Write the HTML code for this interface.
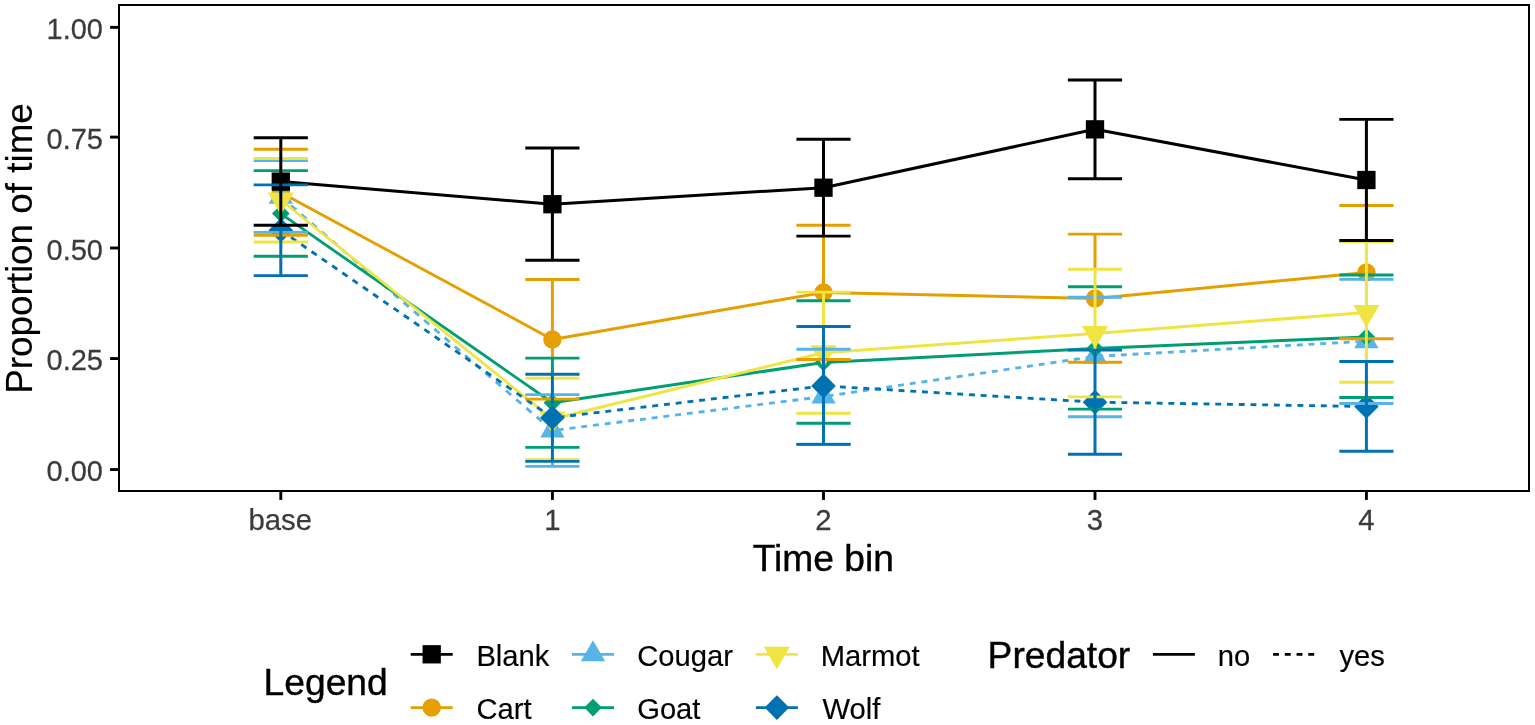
<!DOCTYPE html>
<html lang="en"><head><meta charset="utf-8"><title>Proportion of time by time bin</title>
<style>html,body{margin:0;padding:0;background:#fff;}body{width:1535px;height:725px;overflow:hidden;}svg{display:block;}text{font-family:'Liberation Sans', Arial, sans-serif;}.at{font-size:29.3px;fill:#3b3b3b;stroke:#3b3b3b;stroke-width:0.25px;}.ti{font-size:37.2px;fill:#000;stroke:#000;stroke-width:0.4px;}.lt{font-size:29.2px;fill:#000;stroke:#000;stroke-width:0.15px;}</style>
</head><body>
<svg width="1535" height="725" viewBox="0 0 1535 725">
<rect x="0" y="0" width="1535" height="725" fill="#ffffff"/>
<g fill="none" stroke-width="2.85" stroke-linejoin="round" stroke-linecap="butt">
<line x1="280.8" y1="192.5" x2="552.4" y2="339.4" stroke="#E69F00" stroke-width="2.88"/>
<line x1="552.4" y1="339.4" x2="823.5" y2="292.4" stroke="#E69F00" stroke-width="3.03"/>
<line x1="823.5" y1="292.4" x2="1095" y2="298.5" stroke="#E69F00" stroke-width="3.05"/>
<line x1="1095" y1="298.5" x2="1366.4" y2="272.4" stroke="#E69F00" stroke-width="3.04"/>
<line x1="280.8" y1="196.7" x2="552.4" y2="430.5" stroke="#56B4E9" stroke-dasharray="6.802 6.702" stroke-dashoffset="0.000"/>
<line x1="552.4" y1="430.5" x2="823.5" y2="396.6" stroke="#56B4E9" stroke-dasharray="5.961 5.861" stroke-dashoffset="6.384"/>
<line x1="823.5" y1="396.6" x2="1095" y2="356.4" stroke="#56B4E9" stroke-dasharray="5.979 5.879" stroke-dashoffset="7.728"/>
<line x1="1095" y1="356.4" x2="1366.4" y2="341.2" stroke="#56B4E9" stroke-dasharray="5.924 5.824" stroke-dashoffset="9.369"/>
<line x1="280.8" y1="213.6" x2="552.4" y2="402.75" stroke="#009E73" stroke-width="2.78"/>
<line x1="552.4" y1="402.75" x2="823.5" y2="362.5" stroke="#009E73" stroke-width="3.04"/>
<line x1="823.5" y1="362.5" x2="1095" y2="348.5" stroke="#009E73" stroke-width="3.05"/>
<line x1="1095" y1="348.5" x2="1366.4" y2="337" stroke="#009E73" stroke-width="3.05"/>
<line x1="280.8" y1="200" x2="552.4" y2="419" stroke="#F0E442" stroke-width="2.70"/>
<line x1="552.4" y1="419" x2="823.5" y2="352.65" stroke="#F0E442" stroke-width="3.01"/>
<line x1="823.5" y1="352.65" x2="1095" y2="333.5" stroke="#F0E442" stroke-width="3.05"/>
<line x1="1095" y1="333.5" x2="1366.4" y2="312.4" stroke="#F0E442" stroke-width="3.05"/>
<line x1="280.8" y1="230.25" x2="552.4" y2="417.8" stroke="#0072B2" stroke-dasharray="6.280 6.180" stroke-dashoffset="0.000"/>
<line x1="552.4" y1="417.8" x2="823.5" y2="385.9" stroke="#0072B2" stroke-dasharray="5.955 5.855" stroke-dashoffset="5.787"/>
<line x1="823.5" y1="385.9" x2="1095" y2="402.15" stroke="#0072B2" stroke-dasharray="5.925 5.825" stroke-dashoffset="7.070"/>
<line x1="1095" y1="402.15" x2="1366.4" y2="406.5" stroke="#0072B2" stroke-dasharray="5.916 5.816" stroke-dashoffset="8.769"/>
<line x1="280.8" y1="181.6" x2="552.4" y2="204.2" stroke="#000000" stroke-width="3.05"/>
<line x1="552.4" y1="204.2" x2="823.5" y2="187.7" stroke="#000000" stroke-width="3.05"/>
<line x1="823.5" y1="187.7" x2="1095" y2="129.35" stroke="#000000" stroke-width="3.02"/>
<line x1="1095" y1="129.35" x2="1366.4" y2="180" stroke="#000000" stroke-width="3.03"/>
</g>
<g>
<circle cx="280.8" cy="192.5" r="9.2" fill="#E69F00"/>
<circle cx="552.4" cy="339.4" r="9.2" fill="#E69F00"/>
<circle cx="823.5" cy="292.4" r="9.2" fill="#E69F00"/>
<circle cx="1095" cy="298.5" r="9.2" fill="#E69F00"/>
<circle cx="1366.4" cy="272.4" r="9.2" fill="#E69F00"/>
<polygon points="280.8,182.7 292.95,203.7 268.65,203.7" fill="#56B4E9"/>
<polygon points="552.4,416.5 564.55,437.5 540.25,437.5" fill="#56B4E9"/>
<polygon points="823.5,382.6 835.65,403.6 811.35,403.6" fill="#56B4E9"/>
<polygon points="1095,342.4 1107.15,363.4 1082.85,363.4" fill="#56B4E9"/>
<polygon points="1366.4,327.2 1378.55,348.2 1354.25,348.2" fill="#56B4E9"/>
<polygon points="272,213.6 280.8,204.8 289.6,213.6 280.8,222.4" fill="#009E73"/>
<polygon points="543.6,402.75 552.4,393.95 561.2,402.75 552.4,411.55" fill="#009E73"/>
<polygon points="814.7,362.5 823.5,353.7 832.3,362.5 823.5,371.3" fill="#009E73"/>
<polygon points="1086.2,348.5 1095,339.7 1103.8,348.5 1095,357.3" fill="#009E73"/>
<polygon points="1357.6,337 1366.4,328.2 1375.2,337 1366.4,345.8" fill="#009E73"/>
<polygon points="280.8,215 293.85,192.5 267.75,192.5" fill="#F0E442"/>
<polygon points="552.4,434 565.45,411.5 539.35,411.5" fill="#F0E442"/>
<polygon points="823.5,367.65 836.55,345.15 810.45,345.15" fill="#F0E442"/>
<polygon points="1095,348.5 1108.05,326 1081.95,326" fill="#F0E442"/>
<polygon points="1366.4,327.4 1379.45,304.9 1353.35,304.9" fill="#F0E442"/>
<polygon points="268.5,230.25 280.8,217.95 293.1,230.25 280.8,242.55" fill="#0072B2"/>
<polygon points="540.1,417.8 552.4,405.5 564.7,417.8 552.4,430.1" fill="#0072B2"/>
<polygon points="811.2,385.9 823.5,373.6 835.8,385.9 823.5,398.2" fill="#0072B2"/>
<polygon points="1082.7,402.15 1095,389.85 1107.3,402.15 1095,414.45" fill="#0072B2"/>
<polygon points="1354.1,406.5 1366.4,394.2 1378.7,406.5 1366.4,418.8" fill="#0072B2"/>
<rect x="271.65" y="172.45" width="18.3" height="18.3" fill="#000000"/>
<rect x="543.25" y="195.05" width="18.3" height="18.3" fill="#000000"/>
<rect x="814.35" y="178.55" width="18.3" height="18.3" fill="#000000"/>
<rect x="1085.85" y="120.2" width="18.3" height="18.3" fill="#000000"/>
<rect x="1357.25" y="170.85" width="18.3" height="18.3" fill="#000000"/>
</g>
<g>
<path fill="#E69F00" d="M253.7,147.85H307.9v2.9H253.7zM253.7,233.75H307.9v2.9H253.7z"/>
<path fill="#E69F00" d="M525.3,278.05H579.5v2.9H525.3zM550.9,279.5h3V357.85h-3zM525.3,397.65H579.5v2.9H525.3z"/>
<path fill="#E69F00" d="M796.4,223.85H850.6v2.9H796.4zM822,236.35h3V291.85h-3zM796.4,358.05H850.6v2.9H796.4z"/>
<path fill="#E69F00" d="M1067.9,232.65H1122.1v2.9H1067.9zM1093.5,234.1h3V269.05h-3zM1067.9,360.85H1122.1v2.9H1067.9z"/>
<path fill="#E69F00" d="M1339.3,204.05H1393.5v2.9H1339.3zM1364.9,240.75h3V241.45h-3zM1339.3,337.35H1393.5v2.9H1339.3z"/>
<path fill="#56B4E9" d="M253.7,159.15H307.9v2.9H253.7zM253.7,230.95H307.9v2.9H253.7z"/>
<path fill="#56B4E9" d="M525.3,393.15H579.5v2.9H525.3zM550.9,461.65h3V466.4h-3zM525.3,464.95H579.5v2.9H525.3z"/>
<path fill="#56B4E9" d="M796.4,347.85H850.6v2.9H796.4zM796.4,442.85H850.6v2.9H796.4z"/>
<path fill="#56B4E9" d="M1067.9,295.85H1122.1v2.9H1067.9zM1067.9,415.25H1122.1v2.9H1067.9z"/>
<path fill="#56B4E9" d="M1339.3,277.95H1393.5v2.9H1339.3zM1339.3,402.05H1393.5v2.9H1339.3z"/>
<path fill="#009E73" d="M253.7,169.15H307.9v2.9H253.7zM253.7,254.75H307.9v2.9H253.7z"/>
<path fill="#009E73" d="M525.3,356.65H579.5v2.9H525.3zM550.9,358.1h3V373.95h-3zM525.3,445.95H579.5v2.9H525.3z"/>
<path fill="#009E73" d="M796.4,299.25H850.6v2.9H796.4zM796.4,421.75H850.6v2.9H796.4z"/>
<path fill="#009E73" d="M1067.9,285.25H1122.1v2.9H1067.9zM1067.9,407.65H1122.1v2.9H1067.9z"/>
<path fill="#009E73" d="M1339.3,273.55H1393.5v2.9H1339.3zM1339.3,396.05H1393.5v2.9H1339.3z"/>
<path fill="#F0E442" d="M253.7,157.05H307.9v2.9H253.7zM253.7,240.55H307.9v2.9H253.7z"/>
<path fill="#F0E442" d="M525.3,376.85H579.5v2.9H525.3zM525.3,458.25H579.5v2.9H525.3z"/>
<path fill="#F0E442" d="M796.4,290.65H850.6v2.9H796.4zM822,292.1h3V326.25h-3zM796.4,411.75H850.6v2.9H796.4z"/>
<path fill="#F0E442" d="M1067.9,267.85H1122.1v2.9H1067.9zM1093.5,269.3h3V349.85h-3zM1067.9,395.4H1122.1v2.9H1067.9z"/>
<path fill="#F0E442" d="M1339.3,240.25H1393.5v2.9H1339.3zM1364.9,241.7h3V361.25h-3zM1339.3,380.75H1393.5v2.9H1339.3z"/>
<path fill="#0072B2" d="M253.7,183.45H307.9v2.9H253.7zM279.3,225.55h3V275.6h-3zM253.7,274.15H307.9v2.9H253.7z"/>
<path fill="#0072B2" d="M525.3,372.75H579.5v2.9H525.3zM550.9,374.2h3V461.4h-3zM525.3,459.95H579.5v2.9H525.3z"/>
<path fill="#0072B2" d="M796.4,325.05H850.6v2.9H796.4zM822,326.5h3V444.4h-3zM796.4,442.95H850.6v2.9H796.4z"/>
<path fill="#0072B2" d="M1067.9,348.65H1122.1v2.9H1067.9zM1093.5,350.1h3V454.2h-3zM1067.9,452.75H1122.1v2.9H1067.9z"/>
<path fill="#0072B2" d="M1339.3,360.05H1393.5v2.9H1339.3zM1364.9,361.5h3V451.3h-3zM1339.3,449.85H1393.5v2.9H1339.3z"/>
<path fill="#000000" d="M253.7,136.25H307.9v2.9H253.7zM279.3,137.7h3V225.3h-3zM253.7,223.85H307.9v2.9H253.7z"/>
<path fill="#000000" d="M525.3,146.55H579.5v2.9H525.3zM550.9,148h3V260.3h-3zM525.3,258.85H579.5v2.9H525.3z"/>
<path fill="#000000" d="M796.4,137.85H850.6v2.9H796.4zM822,139.3h3V236.1h-3zM796.4,234.65H850.6v2.9H796.4z"/>
<path fill="#000000" d="M1067.9,78.55H1122.1v2.9H1067.9zM1093.5,80h3V178.7h-3zM1067.9,177.25H1122.1v2.9H1067.9z"/>
<path fill="#000000" d="M1339.3,117.95H1393.5v2.9H1339.3zM1364.9,119.4h3V240.5h-3zM1339.3,239.05H1393.5v2.9H1339.3z"/>
</g>
<rect x="119" y="5" width="1410" height="486" fill="none" stroke="#000" stroke-width="2" shape-rendering="crispEdges"/>
<g fill="#000">
<rect x="110.1" y="25.9" width="8.4" height="2.9"/>
<rect x="110.1" y="135.65" width="8.4" height="2.9"/>
<rect x="110.1" y="246.55" width="8.4" height="2.9"/>
<rect x="110.1" y="357.1" width="8.4" height="2.9"/>
<rect x="110.1" y="468.1" width="8.4" height="2.9"/>
<rect x="279.35" y="491.5" width="2.9" height="8.4"/>
<rect x="550.95" y="491.5" width="2.9" height="8.4"/>
<rect x="822.05" y="491.5" width="2.9" height="8.4"/>
<rect x="1093.55" y="491.5" width="2.9" height="8.4"/>
<rect x="1364.95" y="491.5" width="2.9" height="8.4"/>
</g>
<g class="at" text-anchor="end">
<text transform="translate(103.0 38.85) scale(0.99 1.02)">1.00</text>
<text transform="translate(103.0 148.6) scale(0.99 1.02)">0.75</text>
<text transform="translate(103.0 259.5) scale(0.99 1.02)">0.50</text>
<text transform="translate(103.0 370.05) scale(0.99 1.02)">0.25</text>
<text transform="translate(103.0 481.05) scale(0.99 1.02)">0.00</text>
</g>
<g class="at" text-anchor="middle">
<text x="280.3" y="529.7">base</text>
<text transform="translate(552.4 529.7) scale(1 1.015)">1</text>
<text transform="translate(823.5 529.7) scale(1 1.015)">2</text>
<text transform="translate(1095 529.7) scale(1 1.015)">3</text>
<text transform="translate(1366.4 529.7) scale(1 1.015)">4</text>
</g>
<text class="ti" text-anchor="middle" x="823.3" y="570.7">Time bin</text>
<text class="ti" text-anchor="middle" style="font-size:36.85px;stroke-width:0.15px" transform="translate(31.9 248.5) rotate(-90)">Proportion of time</text>
<text class="ti" x="263.6" y="694.8">Legend</text>
<line x1="410.7" x2="452.7" y1="654.3" y2="654.3" stroke="#000000" stroke-width="2.85"/>
<rect x="422.55" y="645.15" width="18.3" height="18.3" fill="#000000"/>
<text class="lt" x="476.4" y="665.5">Blank</text>
<line x1="410.7" x2="452.7" y1="707.6" y2="707.6" stroke="#E69F00" stroke-width="2.85"/>
<circle cx="431.7" cy="707.6" r="9.2" fill="#E69F00"/>
<text class="lt" x="476.4" y="718.5">Cart</text>
<line x1="572" x2="614" y1="654.3" y2="654.3" stroke="#56B4E9" stroke-width="2.85"/>
<polygon points="593,640.3 605.15,661.3 580.85,661.3" fill="#56B4E9"/>
<text class="lt" x="637.2" y="665.5">Cougar</text>
<line x1="572" x2="614" y1="707.6" y2="707.6" stroke="#009E73" stroke-width="2.85"/>
<polygon points="584.2,707.6 593,698.8 601.8,707.6 593,716.4" fill="#009E73"/>
<text class="lt" x="637.2" y="718.5">Goat</text>
<line x1="755.9" x2="797.9" y1="654.3" y2="654.3" stroke="#F0E442" stroke-width="2.85"/>
<polygon points="776.9,669.3 789.95,646.8 763.85,646.8" fill="#F0E442"/>
<text class="lt" x="820.7" y="665.5">Marmot</text>
<line x1="755.9" x2="797.9" y1="707.6" y2="707.6" stroke="#0072B2" stroke-width="2.85"/>
<polygon points="764.6,707.6 776.9,695.3 789.2,707.6 776.9,719.9" fill="#0072B2"/>
<text class="lt" x="822.6" y="718.5">Wolf</text>
<text class="ti" x="987.6" y="668.4">Predator</text>
<line x1="1152.9" x2="1194.9" y1="654.3" y2="654.3" stroke="#000" stroke-width="2.85"/>
<text class="lt" x="1217.7" y="665.7">no</text>
<line x1="1273.1" x2="1314.6" y1="654.3" y2="654.3" stroke="#000" stroke-width="2.85" stroke-dasharray="5.9 5.83"/>
<text class="lt" x="1339.5" y="665.7">yes</text>
</svg>
</body></html>
